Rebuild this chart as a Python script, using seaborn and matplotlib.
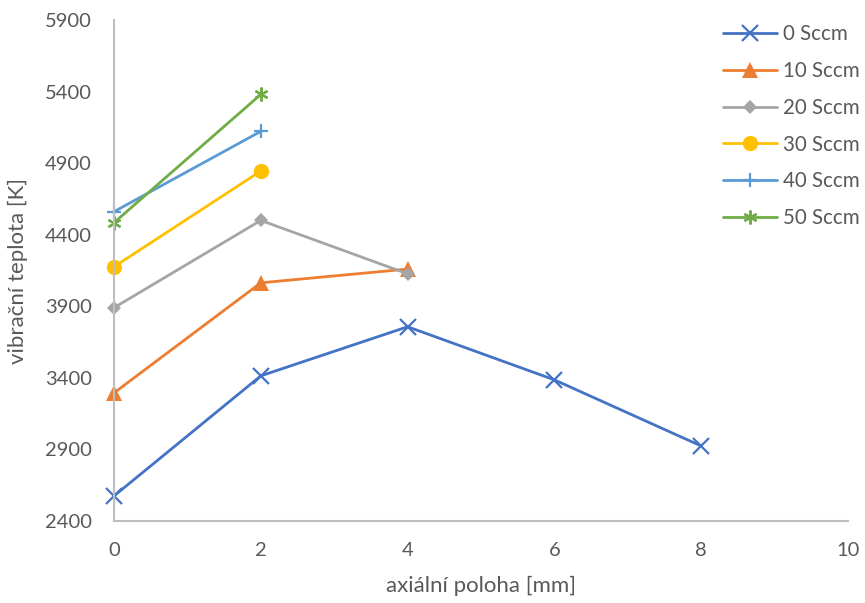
import matplotlib
matplotlib.use("Agg")
import matplotlib.pyplot as plt
import seaborn as sns

# axial position [mm]
x_0 = [0, 2, 4, 6, 8]
x_10 = [0, 2, 4]
x_20 = [0, 2, 4]
x_30 = [0, 2]
x_40 = [0, 2]
x_50 = [0, 2]

# vibrational temperature [K]
t_0 = [2575, 3414, 3757, 3386, 2924]
t_10 = [3295, 4064, 4160]
t_20 = [3890, 4500, 4127]
t_30 = [4176, 4845]
t_40 = [4561, 5122]
t_50 = [4484, 5380]

labels = ["0 Sccm", "10 Sccm", "20 Sccm", "30 Sccm", "40 Sccm", "50 Sccm"]
colors = ["#4472C4", "#ED7D31", "#A5A5A5", "#FFC000", "#5B9BD5", "#70AD47"]
markers = ["x", "^", "D", "o", "+", (6, 2, 0)]
msizes = [11, 11, 7.5, 11, 10, 10]

sns.set_style("white")
plt.rcParams["font.family"] = ["Lato", "DejaVu Sans"]

fig = plt.figure(figsize=(8.65, 6.03), dpi=100)
ax = fig.add_axes([114 / 865, 1 - 521 / 603, (848 - 114) / 865, (521 - 20) / 603])

xs = [x_0, x_10, x_20, x_30, x_40, x_50]
ts = [t_0, t_10, t_20, t_30, t_40, t_50]
for x, t, lab, c, m, ms in zip(xs, ts, labels, colors, markers, msizes):
    sns.lineplot(x=x, y=t, ax=ax, color=c, marker=m, markersize=ms,
                 markeredgewidth=1.6 if m in ("x", "+") or isinstance(m, tuple) else 0,
                 markeredgecolor=c, linewidth=2.0, label=lab, sort=False)

ax.set_xlim(0, 10)
ax.set_ylim(2400, 5900)
ax.set_xticks(range(0, 11, 2))
ax.set_yticks(range(2400, 5901, 500))
for line in ax.lines:
    line.set_clip_on(False)

for s in ["top", "right"]:
    ax.spines[s].set_visible(False)
for s in ["left", "bottom"]:
    ax.spines[s].set_color("#BFBFBF")
    ax.spines[s].set_linewidth(1.5)
ax.tick_params(axis="both", direction="in", length=5, width=1.5, color="#BFBFBF",
               labelcolor="#595959", labelsize=14.5)
ax.tick_params(axis="y", pad=16)
ax.tick_params(axis="x", pad=15)
ax.set_xlabel("axiální poloha [mm]", fontsize=16, color="#595959", labelpad=12)
ax.set_ylabel("vibrační teplota [K]", fontsize=16, color="#595959", labelpad=12)

ax.legend(loc="upper left", bbox_to_anchor=(723 / 865, 1 - 24 / 603),
          bbox_transform=fig.transFigure, frameon=False, fontsize=14.8,
          labelcolor="#595959", handlelength=2.65, handletextpad=0.25,
          labelspacing=0.82, borderaxespad=0, borderpad=0)

fig.savefig("out.png", dpi=100)
